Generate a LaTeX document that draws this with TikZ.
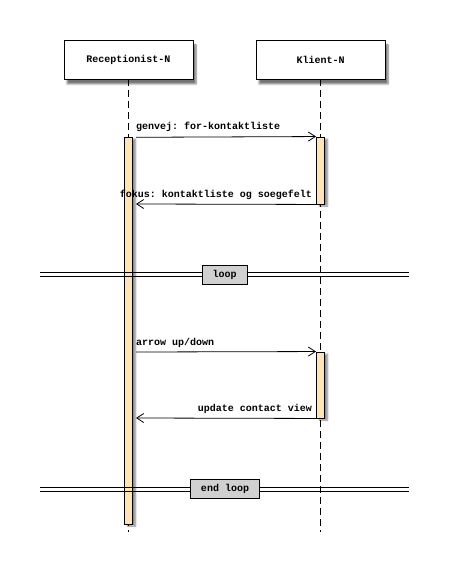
\documentclass[tikz,border=0pt]{standalone}
\usepackage{fontspec}
\setmonofont{Liberation Mono}
\usetikzlibrary{arrows.meta,shadows,shadows.blur}
\definecolor{actfill}{HTML}{FFE4B8}
\definecolor{loopfill}{HTML}{D0D0D0}
\tikzset{
  lbl/.style={font=\ttfamily\bfseries\fontsize{10}{11}\selectfont, inner sep=0pt},
  actor/.style={draw=black, line width=0.9pt, fill=white, minimum width=129pt, minimum height=39pt,
    font=\ttfamily\bfseries\fontsize{10}{11}\selectfont,
    blur shadow={shadow xshift=3pt, shadow yshift=-5pt, shadow blur steps=6, shadow opacity=55}},
  actbar/.style={draw=black, line width=0.9pt, fill=actfill, minimum width=8pt, inner sep=0pt,
    blur shadow={shadow xshift=3pt, shadow yshift=-2pt, shadow blur steps=5, shadow opacity=45}},
  lifeline/.style={line width=0.9pt, dash pattern=on 7pt off 4pt},
  msg/.style={line width=0.8pt, -{Straight Barb[length=7pt,width=9pt,line width=0.8pt]}},
  divline/.style={line width=0.9pt},
  divbox/.style={draw=black, line width=0.9pt, fill=loopfill, inner xsep=10.5pt, minimum height=19pt,
    font=\ttfamily\bfseries\fontsize{10}{11}\selectfont}
}
\begin{document}
\begin{tikzpicture}[x=1pt,y=-1pt]
\useasboundingbox (0,0) rectangle (448,572);
% actors
\node[actor] (rec) at (128.5,59.5) {Receptionist-N};
\node[actor] (kli) at (320.5,59.5) {Klient-N};
\coordinate (recend) at (128.5,532);
\coordinate (kliend) at (320.5,532);
% lifelines
\draw[lifeline] (rec.south) -- (recend);
\draw[lifeline] (kli.south) -- (kliend);
% activation bars
\node[actbar, minimum height=387pt] (ra) at (128.5,330.5) {};
\node[actbar, minimum height=67pt] (k1) at (320.5,170.5) {};
\node[actbar, minimum height=66pt] (k2) at (320.5,385) {};
% message endpoints
\coordinate (m1s) at (136,137.3);
\coordinate (m2e) at (136,204);
\coordinate (m3s) at (136,352);
\coordinate (m4e) at (136,418);
% messages
\draw[msg] (m1s) -- (k1.north west);
\node[lbl, anchor=base west] (l1) at (136,130) {genvej: for-kontaktliste};
\draw[msg] (k1.south west) -- (m2e);
\node[lbl, anchor=base east] (l2) at (312,197) {fokus: kontaktliste og soegefelt};
\draw[msg] (m3s) -- (k2.north west);
\node[lbl, anchor=base west] (l3) at (136,345) {arrow up/down};
\draw[msg] (k2.south west) -- (m4e);
\node[lbl, anchor=base east] (l4) at (312,411.5) {update contact view};
% loop divider
\coordinate (d1l) at (40,272); \coordinate (d1r) at (409,272);
\coordinate (d2l) at (40,276); \coordinate (d2r) at (409,276);
\draw[divline] (d1l) -- (d1r);
\draw[divline] (d2l) -- (d2r);
\node[divbox] (loop) at (224.5,274.5) {loop};
% end loop divider
\coordinate (e1l) at (40,487); \coordinate (e1r) at (409,487);
\coordinate (e2l) at (40,491); \coordinate (e2r) at (409,491);
\draw[divline] (e1l) -- (e1r);
\draw[divline] (e2l) -- (e2r);
\node[divbox] (endloop) at (225,488.5) {end loop};
\end{tikzpicture}
\end{document}
